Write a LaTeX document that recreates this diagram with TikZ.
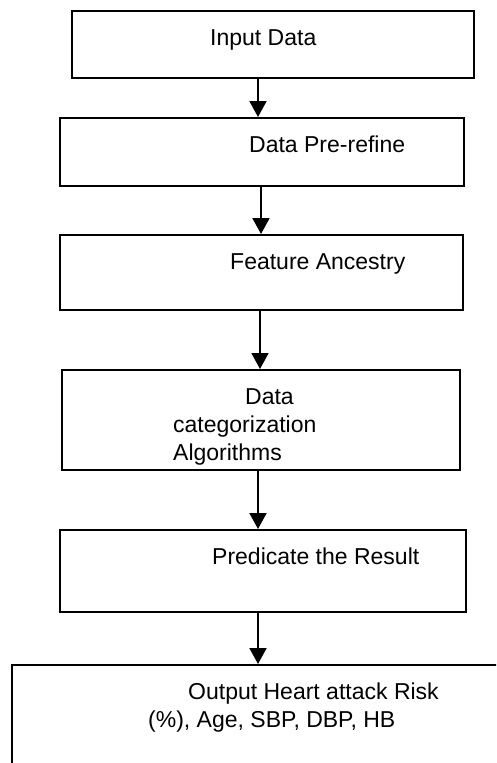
\documentclass[tikz,border=0pt]{standalone}
\usepackage{fontspec}
\setmainfont{Liberation Sans}
\usetikzlibrary{arrows.meta}

\begin{document}
\begin{tikzpicture}[x=1pt, y=-1pt,
    box/.style={rectangle, draw, line width=2pt, inner sep=0pt},
    txt/.style={inner sep=0pt, anchor=base west, font=\fontsize{23}{27}\selectfont},
    flow/.style={line width=2pt, -{Triangle[width=17pt, length=16pt]}}]
    \useasboundingbox (0,0) rectangle (496,763);
    \clip (0,0) rectangle (496,763);

    \node[box, minimum width=402pt, minimum height=67pt] (0) at (273, 44.5) {};
    \node[box, minimum width=404pt, minimum height=68pt] (1) at (262, 152) {};
    \node[box, minimum width=403pt, minimum height=75pt] (2) at (261.5, 272.5) {};
    \node[box, minimum width=398pt, minimum height=100pt] (3) at (261, 420) {};
    \node[box, minimum width=406pt, minimum height=82pt] (4) at (263, 571) {};
    \node[box, minimum width=600pt, minimum height=200pt] (5) at (312, 765) {};

    \node[txt] (l0) at (210, 45) {Input Data};
    \node[txt] (l1) at (249, 152) {Data Pre-refine};
    \node[txt] (l2) at (230, 269) {Feature Ancestry};
    \node[txt] (l3a) at (245, 404) {Data};
    \node[txt] (l3b) at (173, 432) {categorization};
    \node[txt] (l3c) at (173, 460) {Algorithms};
    \node[txt] (l4) at (212, 564) {Predicate the Result};
    \node[txt] (l5a) at (188, 699) {Output Heart attack Risk};
    \node[txt] (l5b) at (148, 727) {(\%), Age, SBP, DBP, HB};

    \coordinate (a0) at (258, 0);
    \coordinate (a1) at (261, 0);
    \coordinate (a2) at (260, 0);
    \coordinate (a3) at (258, 0);
    \coordinate (a4) at (258, 0);

    \draw[flow] (0.south -| a0) -- (1.north -| a0);
    \draw[flow] (1.south -| a1) -- (2.north -| a1);
    \draw[flow] (2.south -| a2) -- (3.north -| a2);
    \draw[flow] (3.south -| a3) -- (4.north -| a3);
    \draw[flow] (4.south -| a4) -- (5.north -| a4);
\end{tikzpicture}
\end{document}
